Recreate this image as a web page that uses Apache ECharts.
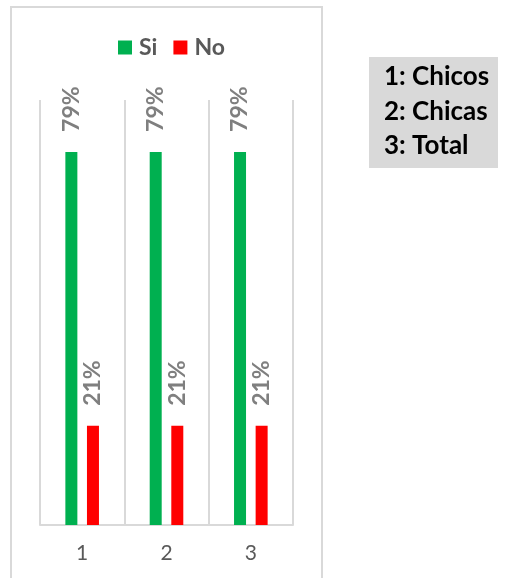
<!DOCTYPE html>
<html>
<head>
<meta charset="utf-8">
<script src="https://cdn.jsdelivr.net/npm/echarts@6/dist/echarts.min.js"></script>
<style>
  html, body { margin: 0; padding: 0; background: #ffffff; }
  #chart { width: 505px; height: 578px; }
</style>
</head>
<body>
<div id="chart"></div>
<script>
// Categories and series values (percent)
const categories = ['1', '2', '3'];
const siValues = [79, 79, 79];
const noValues = [21, 21, 21];
const keyLines = ['1: Chicos', '2: Chicas', '3: Total'];

const chart = echarts.init(document.getElementById('chart'), null, { renderer: 'canvas' });

const labelStyle = {
  show: true,
  position: 'top',
  rotate: 90,
  align: 'left',
  verticalAlign: 'middle',
  distance: 20,
  formatter: p => p.value + '%',
  color: '#7f7f7f',
  fontFamily: 'Lato, "Open Sans", sans-serif',
  fontWeight: 'bold',
  fontSize: 23
};

chart.setOption({
  animation: false,
  backgroundColor: '#ffffff',
  legend: {
    data: ['Si', 'No'],
    top: 31,
    left: 113,
    itemWidth: 14,
    itemHeight: 14,
    itemGap: 16,
    icon: 'rect',
    textStyle: {
      color: '#595959',
      fontFamily: 'Lato, "Open Sans", sans-serif',
      fontWeight: 'bold',
      fontSize: 23,
      padding: [0, 0, 0, 2]
    }
  },
  grid: { left: 40, right: 212, top: 100, bottom: 53 },
  xAxis: {
    type: 'category',
    data: categories,
    axisLine: { show: true, lineStyle: { color: '#d9d9d9', width: 2 } },
    axisTick: { show: false },
    splitLine: { show: true, lineStyle: { color: '#d9d9d9', width: 2 } },
    axisLabel: {
      color: '#595959',
      fontFamily: 'Lato, "Open Sans", sans-serif',
      fontSize: 21,
      margin: 18
    }
  },
  yAxis: {
    type: 'value',
    min: 0,
    max: 90,
    show: false,
    splitLine: { show: false }
  },
  series: [
    {
      name: 'Si',
      type: 'bar',
      data: siValues,
      barWidth: 12,
      barGap: '80%',
      itemStyle: { color: '#00b050' },
      label: labelStyle
    },
    {
      name: 'No',
      type: 'bar',
      data: noValues,
      barWidth: 12,
      itemStyle: { color: '#ff0000' },
      label: labelStyle
    }
  ],
  graphic: [
    {
      type: 'rect',
      shape: { x: 11, y: 7, width: 311, height: 600 },
      style: { fill: 'none', stroke: '#d9d9d9', lineWidth: 2 },
      silent: true
    },
    {
      type: 'rect',
      shape: { x: 369, y: 57, width: 129, height: 111 },
      style: { fill: '#d9d9d9' },
      silent: true
    },
    ...keyLines.map((t, i) => ({
      type: 'text',
      x: 384,
      y: 77 + i * 34.5,
      style: {
        text: t,
        fill: '#000000',
        font: 'bold 26px Lato, "Open Sans", sans-serif',
        verticalAlign: 'middle'
      },
      silent: true
    }))
  ]
});
</script>
</body>
</html>
